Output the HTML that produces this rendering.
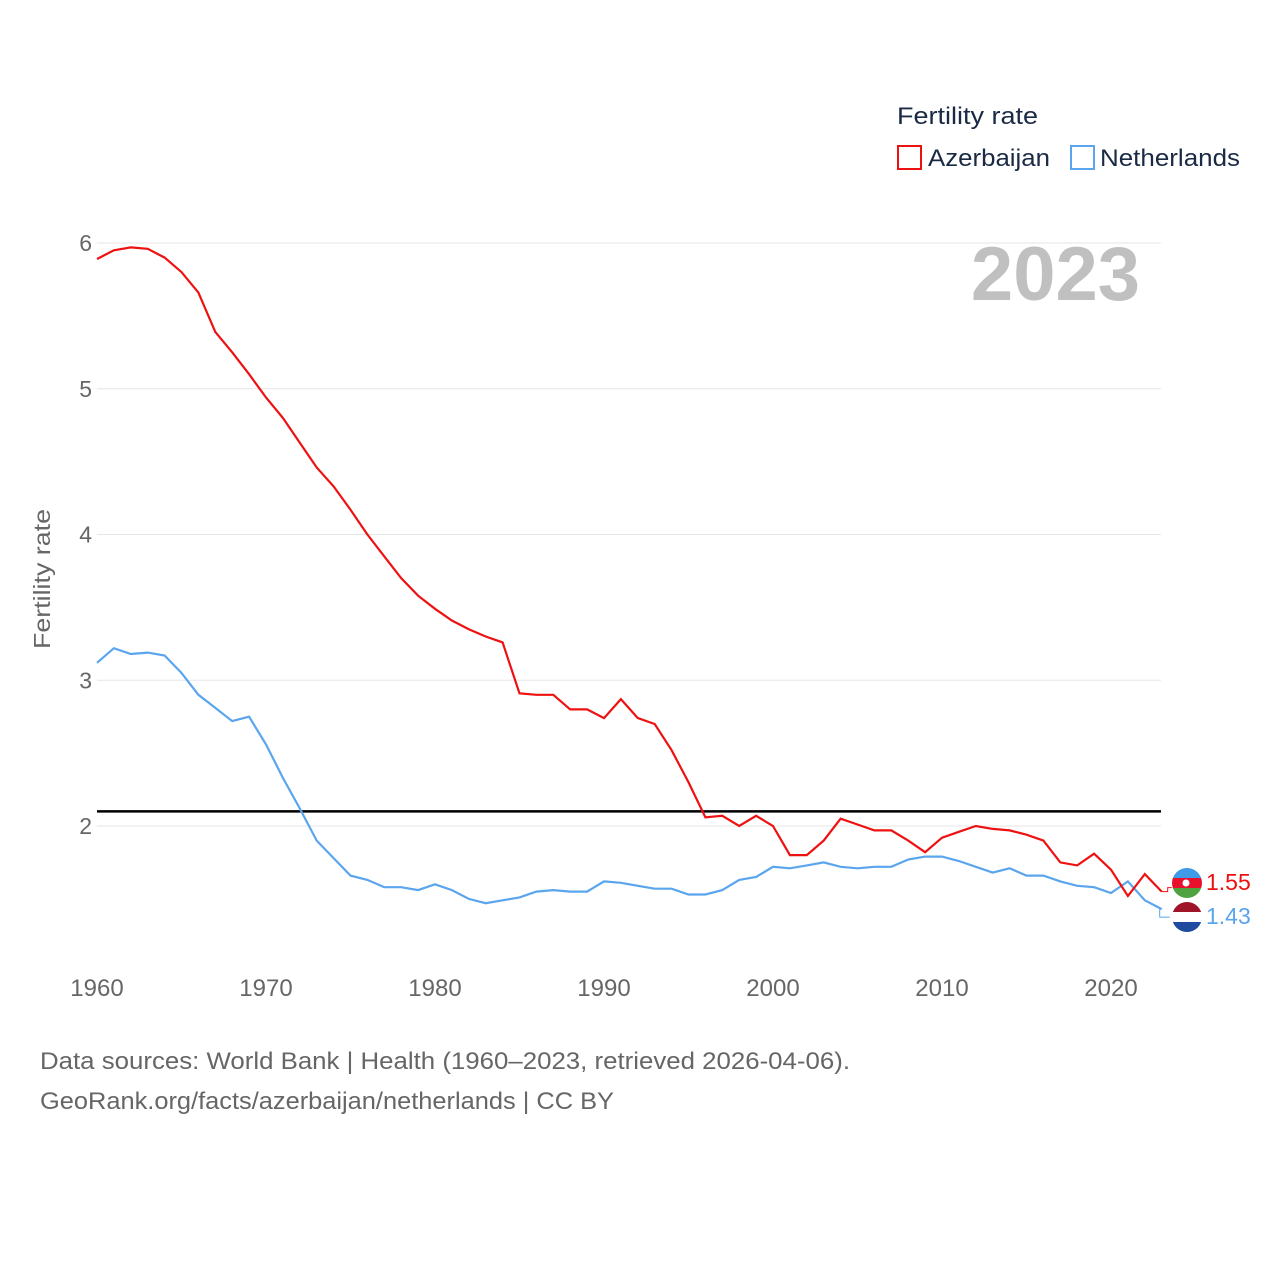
<!DOCTYPE html>
<html><head><meta charset="utf-8"><style>
body{margin:0;background:#fff;font-family:"Liberation Sans",sans-serif;}
svg text{font-family:"Liberation Sans",sans-serif;}
</style></head><body>
<svg id="chart" width="1280" height="1280" xmlns="http://www.w3.org/2000/svg">
<rect width="1280" height="1280" fill="#fff"/>
<g id="grid"></g>
<g id="xticks"></g>
<g id="yticks"></g>
<text x="1140" y="300" text-anchor="end" font-size="76" font-weight="bold" fill="#c0c0c0">2023</text>
<text transform="translate(50,579) rotate(-90)" text-anchor="middle" font-size="23" fill="#666" textLength="140" lengthAdjust="spacingAndGlyphs">Fertility rate</text>
<line id="refline" stroke="#000" stroke-width="2.5"/>
<path id="line-nl" fill="none" stroke="#5aa5ee" stroke-width="2.2"/>
<path id="line-az" fill="none" stroke="#ee1111" stroke-width="2.2"/>
<g id="ends"></g>
<text x="897" y="124" font-size="24" fill="#1a2a44" textLength="141" lengthAdjust="spacingAndGlyphs">Fertility rate</text>
<g><rect x="898" y="146" width="23" height="23" fill="none" stroke="#ee1111" stroke-width="2"/><text x="928" y="166" font-size="24" fill="#1a2a44" textLength="122" lengthAdjust="spacingAndGlyphs">Azerbaijan</text></g>
<g><rect x="1071" y="146" width="23" height="23" fill="none" stroke="#5aa5ee" stroke-width="2"/><text x="1100" y="166" font-size="24" fill="#1a2a44" textLength="140" lengthAdjust="spacingAndGlyphs">Netherlands</text></g>
<text x="40" y="1069" font-size="24" fill="#666" textLength="810" lengthAdjust="spacingAndGlyphs">Data sources: World Bank | Health (1960–2023, retrieved 2026-04-06).</text>
<text x="40" y="1109" font-size="24" fill="#666" textLength="574" lengthAdjust="spacingAndGlyphs">GeoRank.org/facts/azerbaijan/netherlands | CC BY</text>
</svg>
<script>
const years=[];for(let y=1960;y<=2023;y++)years.push(y);
const azValues=[5.89,5.95,5.97,5.96,5.90,5.80,5.66,5.39,5.25,5.10,4.94,4.80,4.63,4.46,4.33,4.17,4.00,3.85,3.70,3.58,3.49,3.41,3.35,3.30,3.26,2.91,2.90,2.90,2.80,2.80,2.74,2.87,2.74,2.70,2.52,2.30,2.06,2.07,2.00,2.07,2.00,1.80,1.80,1.90,2.05,2.01,1.97,1.97,1.90,1.82,1.92,1.96,2.00,1.98,1.97,1.94,1.90,1.75,1.73,1.81,1.70,1.52,1.67,1.55];
const nlValues=[3.12,3.22,3.18,3.19,3.17,3.05,2.90,2.81,2.72,2.75,2.56,2.33,2.12,1.90,1.78,1.66,1.63,1.58,1.58,1.56,1.60,1.56,1.50,1.47,1.49,1.51,1.55,1.56,1.55,1.55,1.62,1.61,1.59,1.57,1.57,1.53,1.53,1.56,1.63,1.65,1.72,1.71,1.73,1.75,1.72,1.71,1.72,1.72,1.77,1.79,1.79,1.76,1.72,1.68,1.71,1.66,1.66,1.62,1.59,1.58,1.54,1.62,1.49,1.43];
const yTicks=[2,3,4,5,6];
const xTicks=[1960,1970,1980,1990,2000,2010,2020];
const refValue=2.1;
const X=y=>97+(y-1960)*16.9;
const Y=v=>1117.5-v*145.75;
const NS="http://www.w3.org/2000/svg";
function mk(t,a,p){const e=document.createElementNS(NS,t);for(const k in a)e.setAttribute(k,a[k]);p.appendChild(e);return e;}
const grid=document.getElementById('grid'),yt=document.getElementById('yticks'),xt=document.getElementById('xticks');
yTicks.forEach(v=>{
 const l=mk('line',{x1:97,x2:1161,y1:Y(v),y2:Y(v),stroke:'#e6e6e6','stroke-width':1},grid);
 
 
 const t=mk('text',{x:92,y:Y(v)+8,'text-anchor':'end','font-size':23,fill:'#666'},yt);t.textContent=v;
 
 
});
xTicks.forEach(v=>{
 const t=mk('text',{x:X(v),y:996,'text-anchor':'middle','font-size':24,fill:'#666'},xt);t.textContent=v;
 
 
});
const rl=document.getElementById('refline');
rl.setAttribute('x1',97);rl.setAttribute('x2',1161);rl.setAttribute('y1',Y(refValue));rl.setAttribute('y2',Y(refValue));
const path=vals=>vals.map((v,i)=>(i?'L':'M')+X(years[i]).toFixed(1)+' '+Y(v).toFixed(1)).join(' ');
document.getElementById('line-az').setAttribute('d',path(azValues));
document.getElementById('line-nl').setAttribute('d',path(nlValues));
const ends=document.getElementById('ends');
const azLast=azValues[azValues.length-1],nlLast=nlValues[nlValues.length-1];
const ex=X(2023);
const ga=mk('g',{},ends);


mk('path',{d:`M${ex} ${Y(azLast)} h6 v-4 h4`,stroke:'#ee1111',fill:'none'},ga);
const ay=883;
mk('clipPath',{id:'ca'},ga);mk('circle',{cx:1187,cy:ay,r:15},ga.lastChild);
const ag=mk('g',{'clip-path':'url(#ca)'},ga);
mk('rect',{x:1172,y:ay-15,width:30,height:10,fill:'#3f9be6'},ag);
mk('rect',{x:1172,y:ay-5,width:30,height:10,fill:'#e8112d'},ag);
mk('rect',{x:1172,y:ay+5,width:30,height:10,fill:'#50a240'},ag);
mk('circle',{cx:1186,cy:ay,r:3.5,fill:'#fff'},ag);
const ta=mk('text',{x:1206,y:ay+7,'font-size':23,fill:'#ee1111'},ga);ta.textContent=azLast.toFixed(2);
const gn=mk('g',{},ends);


mk('path',{d:`M${ex-2} ${Y(nlLast)} v8 h10`,stroke:'#5aa5ee',fill:'none'},gn);
const ny=917;
mk('clipPath',{id:'cn'},gn);mk('circle',{cx:1187,cy:ny,r:15},gn.lastChild);
const ng=mk('g',{'clip-path':'url(#cn)'},gn);
mk('rect',{x:1172,y:ny-15,width:30,height:10,fill:'#a0142a'},ng);
mk('rect',{x:1172,y:ny-5,width:30,height:10,fill:'#fff'},ng);
mk('rect',{x:1172,y:ny+5,width:30,height:10,fill:'#1e4aa0'},ng);
const tn=mk('text',{x:1206,y:ny+7,'font-size':23,fill:'#5aa5ee'},gn);tn.textContent=nlLast.toFixed(2);
</script>
</body></html>
